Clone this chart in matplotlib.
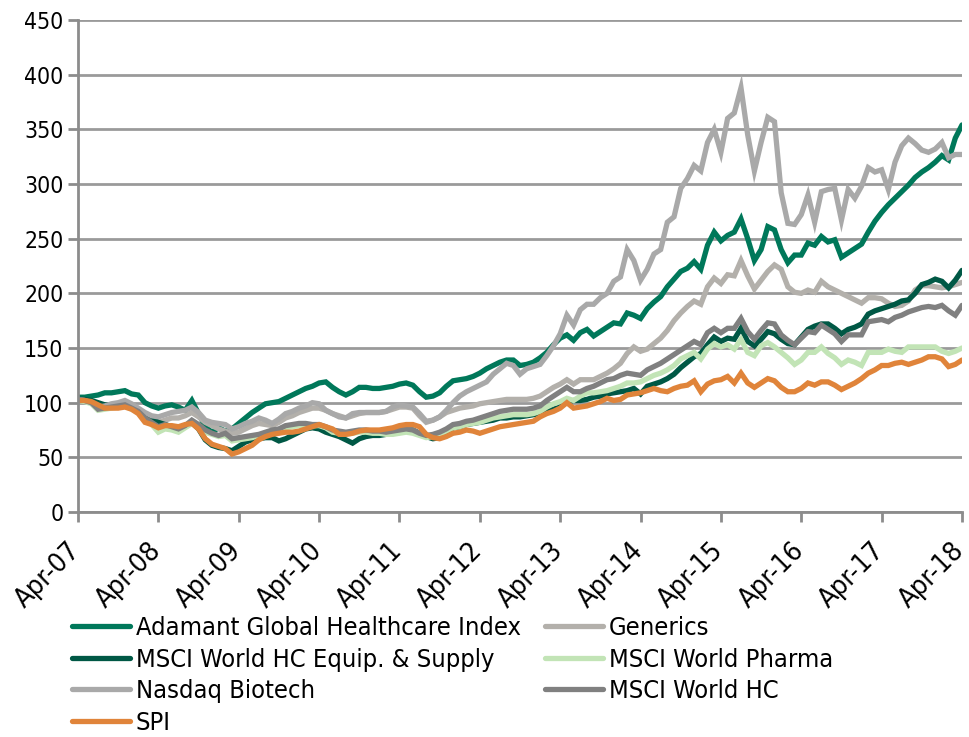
import matplotlib
matplotlib.use("Agg")
import matplotlib.pyplot as plt
from matplotlib import font_manager
from matplotlib.transforms import ScaledTranslation, blended_transform_factory

# monthly index values, Apr-07 .. Apr-18
adamant = [105, 105, 106, 107, 109, 109, 110, 111, 108, 107, 100, 97, 95, 97, 98, 96, 93, 102, 90, 78,
           73, 77, 74, 76, 81, 86, 91, 95, 99, 100, 101, 104, 107, 110, 113, 115, 118, 119, 114, 110,
           107, 110, 114, 114, 113, 113, 114, 115, 117, 118, 116, 110, 105, 106, 109, 115, 120, 121, 122, 124,
           127, 131, 134, 137, 139, 139, 134, 135, 137, 141, 146, 153, 159, 162, 157, 164, 167, 161, 165, 169,
           173, 172, 182, 180, 177, 186, 192, 197, 206, 213, 220, 223, 229, 222, 244, 256, 248, 253, 256, 268,
           250, 230, 240, 261, 258, 240, 228, 235, 235, 246, 244, 252, 247, 249, 233, 237, 241, 245, 256, 266,
           274, 281, 287, 293, 299, 306, 311, 315, 320, 326, 322, 342, 354]
generics = [103, 102, 100, 95, 96, 98, 99, 100, 97, 93, 88, 84, 82, 84, 86, 86, 88, 91, 87, 82,
            79, 76, 74, 72, 73, 76, 79, 81, 80, 79, 82, 86, 88, 91, 93, 95, 95, 93, 90, 88,
            86, 88, 90, 91, 91, 91, 92, 94, 96, 96, 95, 88, 82, 84, 87, 91, 93, 95, 96, 97,
            99, 100, 101, 102, 103, 103, 103, 103, 104, 106, 110, 114, 117, 121, 117, 121, 121, 121, 124, 127,
            131, 136, 145, 151, 147, 149, 154, 159, 166, 175, 182, 188, 193, 190, 206, 214, 209, 217, 216, 230,
            216, 204, 212, 220, 226, 222, 206, 201, 200, 203, 201, 211, 206, 203, 200, 197, 194, 191, 196, 196,
            195, 191, 188, 189, 193, 203, 207, 207, 206, 205, 206, 208, 210]
equip = [103, 103, 102, 100, 98, 98, 97, 98, 96, 94, 90, 86, 82, 80, 78, 77, 79, 82, 76, 66,
         61, 59, 58, 56, 60, 64, 66, 67, 68, 68, 65, 67, 70, 73, 76, 77, 76, 73, 71, 69,
         66, 63, 67, 69, 70, 70, 71, 73, 75, 75, 75, 72, 69, 67, 68, 73, 77, 78, 80, 81,
         82, 83, 84, 86, 86, 87, 87, 88, 89, 90, 92, 94, 96, 101, 102, 102, 103, 105, 106, 108,
         109, 110, 111, 113, 108, 115, 117, 119, 122, 126, 132, 137, 142, 145, 153, 160, 156, 159, 158, 168,
         156, 152, 158, 165, 163, 158, 154, 153, 160, 167, 170, 172, 172, 168, 163, 167, 169, 172, 181, 184,
         186, 188, 190, 193, 194, 200, 208, 210, 213, 211, 205, 212, 221]
pharma = [102, 101, 99, 93, 94, 95, 96, 97, 94, 91, 85, 80, 73, 76, 75, 73, 77, 81, 78, 73,
          71, 69, 70, 65, 66, 67, 68, 70, 72, 74, 75, 77, 78, 79, 79, 79, 79, 77, 73, 72,
          71, 72, 73, 73, 72, 72, 71, 71, 72, 73, 72, 70, 68, 69, 71, 74, 77, 78, 80, 81,
          82, 84, 86, 87, 88, 89, 89, 89, 90, 92, 96, 99, 101, 104, 102, 106, 109, 109, 110, 111,
          113, 115, 118, 118, 119, 122, 125, 127, 130, 134, 140, 143, 146, 140, 149, 154, 151, 153, 149, 158,
          146, 143, 152, 155, 151, 146, 141, 135, 139, 146, 146, 151, 145, 141, 135, 139, 137, 134, 146, 146,
          146, 149, 147, 146, 151, 151, 151, 151, 151, 147, 145, 147, 150]
nasdaq = [103, 102, 100, 96, 97, 99, 100, 102, 99, 95, 91, 88, 87, 89, 91, 92, 93, 96, 91, 84,
          82, 81, 80, 76, 78, 81, 83, 86, 84, 81, 85, 90, 92, 95, 97, 100, 99, 93, 90, 87,
          86, 90, 91, 91, 91, 91, 92, 96, 98, 97, 96, 90, 83, 84, 87, 93, 100, 106, 110, 113,
          116, 119, 126, 131, 136, 134, 126, 131, 133, 135, 143, 152, 163, 180, 171, 185, 190, 190, 196, 200,
          211, 215, 240, 230, 212, 222, 236, 240, 265, 270, 296, 305, 317, 312, 338, 350, 329, 360, 365, 388,
          345, 312, 338, 361, 357, 292, 264, 263, 272, 290, 265, 293, 295, 296, 267, 295, 287, 298, 315, 311,
          313, 295, 320, 335, 342, 337, 331, 329, 332, 338, 324, 327, 327]
world_hc = [103, 102, 100, 94, 95, 96, 97, 98, 95, 92, 86, 82, 78, 80, 78, 76, 79, 84, 80, 75,
            72, 70, 72, 67, 68, 69, 70, 71, 73, 75, 76, 79, 80, 81, 81, 80, 80, 78, 75, 74,
            73, 74, 75, 75, 74, 74, 73, 74, 75, 76, 75, 72, 70, 71, 73, 76, 80, 81, 83, 84,
            86, 88, 90, 92, 93, 94, 94, 94, 95, 97, 102, 106, 110, 114, 110, 110, 113, 115, 118, 121,
            122, 125, 127, 126, 125, 130, 133, 136, 140, 144, 148, 152, 156, 153, 164, 168, 164, 168, 168, 177,
            165, 158, 166, 173, 172, 162, 157, 153, 159, 165, 164, 171, 167, 163, 156, 162, 162, 162, 174, 175,
            176, 174, 178, 180, 183, 185, 187, 188, 187, 189, 184, 180, 189]
spi = [102, 102, 101, 98, 95, 95, 95, 96, 94, 90, 82, 80, 77, 79, 79, 78, 80, 81, 76, 67,
       62, 60, 58, 53, 55, 58, 61, 66, 69, 71, 72, 73, 73, 74, 76, 78, 80, 78, 76, 71,
       71, 72, 74, 75, 75, 75, 76, 77, 79, 80, 80, 78, 71, 68, 67, 69, 72, 73, 75, 74,
       72, 74, 76, 78, 79, 80, 81, 82, 83, 87, 90, 92, 95, 100, 95, 96, 97, 99, 101, 104,
       102, 103, 107, 108, 109, 111, 113, 111, 110, 113, 115, 116, 120, 110, 117, 120, 121, 124, 118, 127,
       118, 114, 118, 122, 120, 114, 110, 110, 113, 118, 116, 119, 119, 116, 112, 115, 118, 122, 127, 130,
       134, 134, 136, 137, 135, 137, 139, 142, 142, 140, 133, 135, 139]

names = ["Adamant Global Healthcare Index", "Generics", "MSCI World HC Equip. & Supply",
         "MSCI World Pharma", "Nasdaq Biotech", "MSCI World HC", "SPI"]
colors = ["#00785A", "#B3B0AB", "#005845", "#C2E4B6", "#A9A9A9", "#808080", "#E0843A"]
tick_labels = ["Apr-07", "Apr-08", "Apr-09", "Apr-10", "Apr-11", "Apr-12",
               "Apr-13", "Apr-14", "Apr-15", "Apr-16", "Apr-17", "Apr-18"]

# narrow font like the original's Calibri, if one is around
fams = {f.name for f in font_manager.fontManager.ttflist}
condensed = any("Condensed" in f.fname and "DejaVuSans" in f.fname and "Bold" not in f.fname
                and "Oblique" not in f.fname for f in font_manager.fontManager.ttflist)
if "Liberation Sans Narrow" in fams:
    plt.rcParams["font.family"] = ["Liberation Sans Narrow", "DejaVu Sans"]
    lab_size, ytick_size, xtick_size = 18.5, 17, 21
elif condensed:
    plt.rcParams["font.family"] = ["DejaVu Sans"]
    plt.rcParams["font.stretch"] = "condensed"
    lab_size, ytick_size, xtick_size = 18.3, 16.5, 19.5
else:
    plt.rcParams["font.family"] = ["DejaVu Sans"]
    lab_size, ytick_size, xtick_size = 16, 15, 17

fig = plt.figure(figsize=(9.69, 7.37), dpi=100)
ax = fig.add_axes([78 / 969, 1 - 512 / 737, (962 - 78) / 969, (512 - 20) / 737])

series = [adamant, generics, equip, pharma, nasdaq, world_hc, spi]
lines = []
for vals, name, c in zip(series, names, colors):
    ln, = ax.plot(range(len(vals)), vals, color=c, lw=3.8, label=name,
                  solid_capstyle="round", solid_joinstyle="miter")
    lines.append(ln)

ax.set_xlim(0, 132)
ax.set_ylim(0, 450)
ax.set_yticks(range(0, 451, 50))
xt = list(range(0, 133, 12))
ax.set_xticks(xt)
ax.set_xticklabels([])
# rotated date labels placed by hand so the last one stays inside the figure
tr = blended_transform_factory(ax.transData, ax.transAxes) + \
    ScaledTranslation(-1 / 100, -35 / 100, fig.dpi_scale_trans)
for x, lab in zip(xt, tick_labels):
    ax.text(x, 0, lab, transform=tr, rotation=45, ha="right", va="center",
            rotation_mode="anchor", fontsize=xtick_size)

ax.grid(axis="y", color="#9A9A9A", lw=2)
ax.set_axisbelow(True)
for s in ["top", "right"]:
    ax.spines[s].set_visible(False)
for s in ["left", "bottom"]:
    ax.spines[s].set_color("#8C8C8C")
    ax.spines[s].set_linewidth(2)
ax.tick_params(axis="both", colors="#8C8C8C", width=2, length=7, labelcolor="black")
ax.tick_params(axis="y", labelsize=ytick_size)

order1 = [0, 2, 4, 6]
order2 = [1, 3, 5]
kw = dict(frameon=False, fontsize=lab_size, handlelength=2.3, handletextpad=0.2,
          labelspacing=0.3, loc="upper left", borderaxespad=0, borderpad=0)
fig.legend([lines[i] for i in order1], [names[i] for i in order1],
           bbox_to_anchor=(72 / 969, 1 - 616 / 737), **kw)
fig.legend([lines[i] for i in order2], [names[i] for i in order2],
           bbox_to_anchor=(545 / 969, 1 - 616 / 737), **kw)

fig.savefig("out.png", dpi=100)
